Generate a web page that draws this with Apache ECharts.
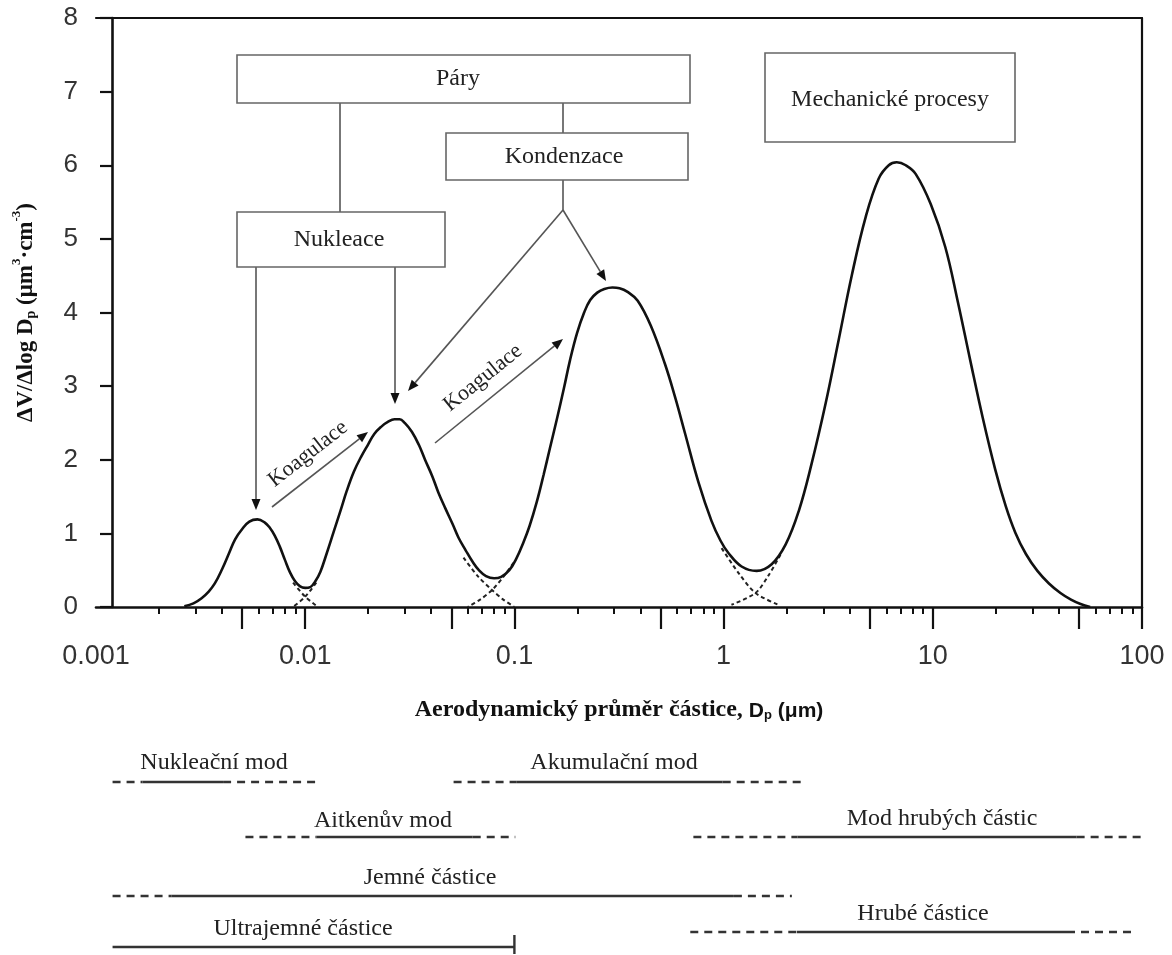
<!DOCTYPE html>
<html><head><meta charset="utf-8">
<script src="https://cdn.jsdelivr.net/npm/echarts@6/dist/echarts.min.js"></script>
<style>html,body{margin:0;padding:0;background:#fff}#c{width:1172px;height:955px}</style>
</head><body><div id="c"></div>
<script>
// ================= DATA =================
// x axis (aerodynamic diameter, µm, log scale)
const xTickValues = [0.001, 0.01, 0.1, 1, 10, 100];
const xTickLabels = ['0.001', '0.01', '0.1', '1', '10', '100'];
const xMajorTicks = [0.005, 0.01, 0.05, 0.1, 0.5, 1, 5, 10, 50, 100];
const xMinorTicks = [0.002, 0.003, 0.004, 0.006, 0.007, 0.008, 0.009,
                     0.02, 0.03, 0.04, 0.06, 0.07, 0.08, 0.09,
                     0.2, 0.3, 0.4, 0.6, 0.7, 0.8, 0.9,
                     2, 3, 4, 6, 7, 8, 9,
                     20, 30, 40, 60, 70, 80, 90];
const yTickValues = [0, 1, 2, 3, 4, 5, 6, 7, 8];

// total volume distribution dV/dlogDp : diameter (µm) and value
const curveD = [0.002644,0.002924,0.003197,0.003457,0.003698,0.0040,0.004324,0.004624,0.0050,0.005408,0.005912,0.006393,0.006761,0.00715,0.007561,0.007999,0.008459,0.008944,0.009456,0.0100,0.010575,0.011181,0.011823,0.012643,0.013677,0.014791,0.015812,0.0171,0.018493,0.0200,0.021385,0.023126,0.024729,0.026743,0.028281,0.029903,0.03234,0.034973,0.037397,0.040444,0.043247,0.04677,0.050579,0.054085,0.058489,0.063242,0.067637,0.073139,0.079983,0.086496,0.09456,0.10225,0.11053,0.11815,0.12773,0.13804,0.14762,0.15955,0.17245,0.18436,0.19925,0.21544,0.23035,0.24893,0.26913,0.29416,0.31798,0.34759,0.38854,0.44895,0.52453,0.58628,0.65531,0.75718,0.87514,0.96719,1.0566,1.2191,1.4387,1.6968,1.9803,2.2852,2.6367,3.0767,3.55,4.0963,4.7797,5.5152,6.1591,6.7262,7.4279,8.2921,9.7822,11.47,13.161,15.101,17.324,19.871,22.318,24.805,27.866,31.623,35.907,40.748,45.772,50.86,56.53];
const curveV = [0.01,0.05,0.12,0.21,0.32,0.51,0.73,0.92,1.06,1.16,1.19,1.15,1.08,0.97,0.82,0.64,0.47,0.35,0.28,0.26,0.27,0.35,0.48,0.72,1.02,1.32,1.58,1.84,2.04,2.21,2.35,2.45,2.51,2.55,2.55,2.50,2.38,2.20,2.00,1.78,1.56,1.34,1.13,0.94,0.77,0.61,0.50,0.42,0.39,0.41,0.50,0.66,0.88,1.10,1.42,1.80,2.15,2.55,2.97,3.35,3.72,4.00,4.17,4.27,4.32,4.34,4.33,4.28,4.16,3.82,3.30,2.85,2.35,1.70,1.17,0.90,0.73,0.55,0.49,0.58,0.85,1.30,1.95,2.77,3.63,4.50,5.30,5.82,6.00,6.04,6.00,5.88,5.47,4.89,4.15,3.35,2.57,1.87,1.37,1.01,0.72,0.49,0.32,0.19,0.10,0.04,0.00];

// individual-mode tails (dashed) near the minima: [D, value]
const tailNuclRight  = [[0.00875,0.33],[0.0100,0.14],[0.0114,0.01]];
const tailAitkLeft   = [[0.0113,0.33],[0.0100,0.14],[0.00885,0.01]];
const tailAitkRight  = [[0.0571,0.67],[0.0668,0.42],[0.0782,0.23],[0.0885,0.10],[0.100,0.0]];
const tailAccuLeft   = [[0.099,0.60],[0.0885,0.41],[0.0782,0.23],[0.0685,0.10],[0.0598,0.0]];
const tailAccuRight  = [[0.978,0.80],[1.18,0.46],[1.42,0.19],[1.83,0.03]];
const tailCoarseLeft = [[1.87,0.71],[1.64,0.43],[1.42,0.19],[1.09,0.03]];

// size ranges (µm): [dashed start, solid start, solid end, dashed end]
const bandNames = ['Nukleační mod', 'Akumulační mod', 'Aitkenův mod', 'Mod hrubých částic', 'Jemné částice', 'Ultrajemné částice', 'Hrubé částice'];
const rangeNukleacni  = [0.0012, 0.00167, 0.00405, 0.0112];
const rangeAkumulacni = [0.0512, 0.102, 0.99, 2.49];
const rangeAitken     = [0.00518, 0.0113, 0.0632, 0.101];
const rangeHrubychMod = [0.717, 2.26, 48.7, 100];
const rangeJemne      = [0.0012, 0.00229, 1.12, 2.12];
const rangeUltrajemne = [0.0012, 0.0012, 0.1, 0.1];
const rangeHrube      = [0.693, 2.24, 43.8, 92.9];

// ================= LAYOUT / STYLE =================
const SERIF = '"Liberation Serif", "Times New Roman", serif';
const SANS = '"Liberation Sans", Arial, sans-serif';
const bandRanges = [rangeNukleacni, rangeAkumulacni, rangeAitken, rangeHrubychMod, rangeJemne, rangeUltrajemne, rangeHrube];
const bandRowY   = [782, 782, 837, 837, 896, 947, 932];           // pixel rows of lower panel
const bandLabelPos = [[214,763],[614,763],[383,821],[942,819],[430,878],[303,929],[923,914]];

const chart = echarts.init(document.getElementById('c'), null, {renderer: 'canvas'});

function nearestLabel(v) {
  let best = 0, bd = Infinity;
  xTickValues.forEach((t, i) => { const d = Math.abs(Math.log10(v) - Math.log10(t)); if (d < bd) { bd = d; best = i; } });
  return xTickLabels[best];
}

const series = [];
series.push({
  type: 'line', xAxisIndex: 0, yAxisIndex: 0, smooth: 0.4, symbol: 'none', z: 5,
  lineStyle: {color: '#111', width: 2.6},
  data: curveD.map((d, i) => [d, curveV[i]])
});
[tailNuclRight, tailAitkLeft, tailAitkRight, tailAccuLeft, tailAccuRight, tailCoarseLeft].forEach(t => {
  series.push({type: 'line', xAxisIndex: 0, yAxisIndex: 0, smooth: 0.3, symbol: 'none', z: 4,
    lineStyle: {color: '#222', width: 2, type: [4, 3]}, data: t});
});
bandRanges.forEach((r, i) => {
  const y = bandRowY[i];
  const seg = (a, b, dashed) => series.push({
    type: 'line', xAxisIndex: 3, yAxisIndex: 2, symbol: 'none', silent: true,
    lineStyle: {color: '#333', width: 2.6, type: dashed ? [8, 6] : 'solid'},
    data: [[a, y], [b, y]]
  });
  if (r[0] < r[1]) seg(r[0], r[1], true);
  seg(r[1], r[2], false);
  if (r[2] < r[3]) seg(r[2], r[3], true);
});
// end bar of ultrafine range
series.push({type: 'line', xAxisIndex: 3, yAxisIndex: 2, symbol: 'none',
  lineStyle: {color: '#333', width: 2.4},
  data: [[rangeUltrajemne[2], bandRowY[5] - 12], [rangeUltrajemne[2], bandRowY[5] + 7]]});

// ---------- annotation graphics ----------
const g = [];
const BOX = '#666', LINE = '#555';
function box(x, y, w, h, text, tx, ty) {
  g.push({type: 'rect', shape: {x, y, width: w, height: h}, style: {fill: '#fff', stroke: BOX, lineWidth: 1.6}, z: 10});
  g.push({type: 'text', x: tx, y: ty, z: 11, style: {text, font: '24px ' + SERIF, fill: '#222', align: 'center', verticalAlign: 'middle'}});
}
function seg(x1, y1, x2, y2) {
  g.push({type: 'line', shape: {x1, y1, x2, y2}, style: {stroke: LINE, lineWidth: 1.6}, z: 10});
}
function arrow(x1, y1, x2, y2) {
  const dx = x2 - x1, dy = y2 - y1, len = Math.hypot(dx, dy), ux = dx / len, uy = dy / len;
  const L = 11, W = 4.5, bx = x2 - ux * L, by = y2 - uy * L;
  seg(x1, y1, bx, by);
  g.push({type: 'polygon', z: 10, shape: {points: [[x2, y2], [bx - uy * W, by + ux * W], [bx + uy * W, by - ux * W]]}, style: {fill: '#111'}});
}
seg(340, 103, 340, 212);
seg(563, 103, 563, 133);
seg(563, 180, 563, 210);
arrow(563, 210, 408, 391);
arrow(563, 210, 606, 281);
arrow(256, 267, 256, 510);
arrow(395, 267, 395, 404);
arrow(272, 507, 368, 432);
arrow(435, 443, 563, 339);
box(237, 55, 453, 48, 'Páry', 458, 79);
box(237, 212, 208, 55, 'Nukleace', 339, 240);
box(446, 133, 242, 47, 'Kondenzace', 564, 157);
box(765, 53, 250, 89, 'Mechanické procesy', 890, 100);
g.push({type: 'text', x: 308, y: 454, rotation: 38 * Math.PI / 180, z: 11,
  style: {text: 'Koagulace', font: '22px ' + SERIF, fill: '#222', align: 'center', verticalAlign: 'middle'}});
g.push({type: 'text', x: 483, y: 378, rotation: 39 * Math.PI / 180, z: 11,
  style: {text: 'Koagulace', font: '22px ' + SERIF, fill: '#222', align: 'center', verticalAlign: 'middle'}});
bandNames.forEach((n, i) => {
  g.push({type: 'text', x: bandLabelPos[i][0], y: bandLabelPos[i][1], z: 11,
    style: {text: n, font: '24px ' + SERIF, fill: '#222', align: 'center', verticalAlign: 'middle'}});
});

const hiddenAxis = {axisLine: {show: false}, axisTick: {show: false}, axisLabel: {show: false}, splitLine: {show: false}};

chart.setOption({
  animation: false,
  backgroundColor: '#fff',
  grid: [
    {left: 96, right: 30, top: 18, bottom: 348},
    {left: 96, right: 30, top: 740, height: 215}
  ],
  xAxis: [
    { type: 'log', gridIndex: 0, min: 0.001, max: 100, position: 'bottom',
      axisLine: {show: true, lineStyle: {color: '#111', width: 2.6}},
      axisTick: {show: true, customValues: xMajorTicks, length: 22, lineStyle: {color: '#111', width: 2.2}},
      axisLabel: {show: true, customValues: xTickValues, formatter: v => nearestLabel(v), margin: 36,
        fontFamily: SANS, fontSize: 27, color: '#333'},
      splitLine: {show: false}, minorTick: {show: false},
      name: '{b|Aerodynamický průměr částice, }{s|D}{sub|p}{s| (μm)}',
      nameLocation: 'middle', nameGap: 87,
      nameTextStyle: {rich: {
        b: {fontFamily: SERIF, fontWeight: 'bold', fontSize: 24, color: '#111', lineHeight: 28, verticalAlign: 'bottom'},
        s: {fontFamily: SANS, fontWeight: 'bold', fontSize: 21, color: '#111', lineHeight: 28, verticalAlign: 'bottom'},
        sub: {fontFamily: SANS, fontWeight: 'bold', fontSize: 13, color: '#111', lineHeight: 24, verticalAlign: 'bottom'}
      }}
    },
    { type: 'log', gridIndex: 0, min: 0.001, max: 100, position: 'bottom',
      axisLine: {show: false},
      axisTick: {show: true, customValues: xMinorTicks, length: 7, lineStyle: {color: '#111', width: 2}},
      axisLabel: {show: false}, splitLine: {show: false}
    },
    { type: 'log', gridIndex: 0, min: 0.001, max: 100, position: 'top',
      axisLine: {show: true, lineStyle: {color: '#111', width: 2.2}},
      axisTick: {show: false}, axisLabel: {show: false}, splitLine: {show: false}
    },
    Object.assign({type: 'log', gridIndex: 1, min: 0.001, max: 100}, hiddenAxis)
  ],
  yAxis: [
    { type: 'value', gridIndex: 0, min: 0, max: 8, interval: 1, position: 'left', offset: -16,
      axisLine: {show: true, lineStyle: {color: '#111', width: 2.6}},
      axisTick: {show: true, length: 12, lineStyle: {color: '#111', width: 2.2}},
      axisLabel: {show: true, margin: 34, fontFamily: SANS, fontSize: 26, color: '#333',
        formatter: v => (yTickValues.indexOf(v) >= 0 ? String(v) : '')},
      splitLine: {show: false},
      name: '{b|ΔV/Δlog D}{sub|p}{b| (μm}{sup|3}{b|·cm}{sup|-3}{b|)}',
      nameLocation: 'middle', nameRotate: 90, nameGap: 74,
      nameTextStyle: {rich: {
        b: {fontFamily: SERIF, fontWeight: 'bold', fontSize: 23, color: '#111', lineHeight: 28, verticalAlign: 'bottom'},
        sub: {fontFamily: SERIF, fontWeight: 'bold', fontSize: 14, color: '#111', lineHeight: 24, verticalAlign: 'bottom'},
        sup: {fontFamily: SERIF, fontWeight: 'bold', fontSize: 13, color: '#111', lineHeight: 28, verticalAlign: 'top'}
      }}
    },
    { type: 'value', gridIndex: 0, min: 0, max: 8, position: 'right',
      axisLine: {show: true, lineStyle: {color: '#111', width: 2.2}},
      axisTick: {show: false}, axisLabel: {show: false}, splitLine: {show: false}
    },
    Object.assign({type: 'value', gridIndex: 1, min: 740, max: 955, inverse: true}, hiddenAxis)
  ],
  series,
  graphic: {elements: g}
});
</script></body></html>
